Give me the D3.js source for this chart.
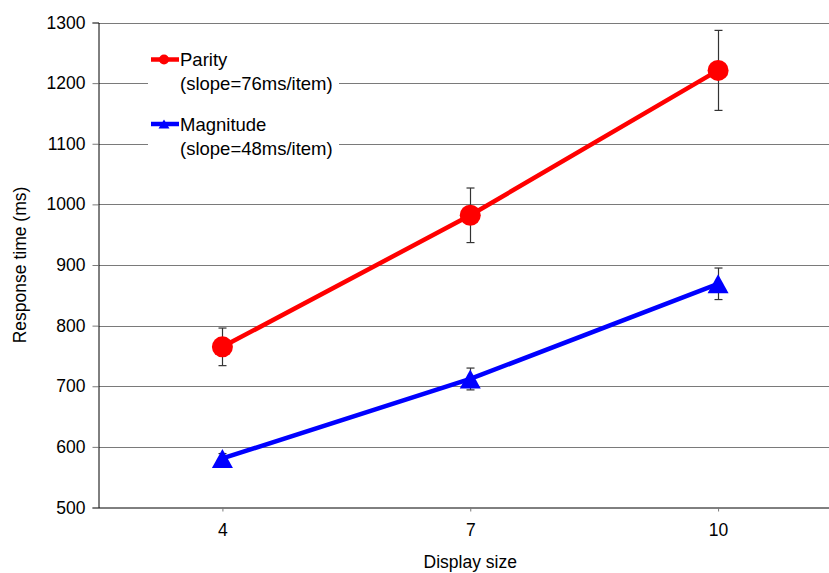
<!DOCTYPE html>
<html>
<head>
<meta charset="utf-8">
<script src="https://cdn.jsdelivr.net/npm/d3@7"></script>
<style>
  body { margin: 0; background: #fff; }
  svg { display: block; font-family: "Liberation Sans", Arial, sans-serif; }
</style>
</head>
<body>
<svg id="chart" width="829" height="573"></svg>
<script>
const categories = ["4", "7", "10"];
const parityValues = [765, 982, 1221];
const parityErrors = [31, 45, 66];
const magnitudeValues = [581, 712, 869];
const magnitudeErrors = [8, 18, 26];
const yTicks = [500, 600, 700, 800, 900, 1000, 1100, 1200, 1300];
const seriesNames = ["Parity", "Magnitude"];
const seriesNotes = ["(slope=76ms/item)", "(slope=48ms/item)"];

const svg = d3.select("#chart");
const plotLeft = 98.5, plotRight = 842, plotTop = 22.5, plotBottom = 507.5;

const x = d3.scalePoint().domain(categories).range([plotLeft, plotRight]).padding(0.5);
const y = d3.scaleLinear().domain([500, 1300]).range([plotBottom, plotTop]);

// gridlines
svg.append("g").selectAll("line").data(yTicks.slice(1)).join("line")
  .attr("x1", plotLeft).attr("x2", 829)
  .attr("y1", d => Math.round(y(d)) + 0.5).attr("y2", d => Math.round(y(d)) + 0.5)
  .attr("stroke", "#7a7a7a").attr("stroke-width", 1);

// y axis
const yAxis = svg.append("g").attr("transform", `translate(${plotLeft},0)`)
  .call(d3.axisLeft(y).tickValues(yTicks).tickSize(6).tickPadding(7).tickFormat(d3.format("d")));
yAxis.select(".domain").attr("stroke", "#000");
yAxis.selectAll(".tick line").attr("stroke", "#7a7a7a");
yAxis.selectAll(".tick text").attr("font-size", 17.5).attr("fill", "#000")
  .attr("font-family", "Liberation Sans, Arial, sans-serif");

// x axis
const xAxis = svg.append("g").attr("transform", `translate(0,${plotBottom})`)
  .call(d3.axisBottom(x).tickSize(4).tickPadding(12).tickSizeOuter(0));
xAxis.select(".domain").attr("stroke", "#000");
xAxis.selectAll(".tick line").attr("stroke", "#7a7a7a");
xAxis.selectAll(".tick text").attr("font-size", 17.5).attr("fill", "#000")
  .attr("font-family", "Liberation Sans, Arial, sans-serif");

// axis titles
svg.append("text").attr("x", (plotLeft + plotRight) / 2).attr("y", 568).attr("text-anchor", "middle")
  .attr("font-size", 17.5).text("Display size");
svg.append("text").attr("transform", "translate(26,265) rotate(-90)").attr("text-anchor", "middle")
  .attr("font-size", 17.5).text("Response time (ms)");

// legend background
svg.append("rect").attr("x", 148).attr("y", 40).attr("width", 191).attr("height", 122).attr("fill", "#fff");

const series = [
  { vals: parityValues, errs: parityErrors, color: "#ff0000", shape: "circle" },
  { vals: magnitudeValues, errs: magnitudeErrors, color: "#0000ff", shape: "triangle" }
];

const line = d3.line().x((d, i) => x(categories[i])).y(d => y(d));

series.forEach(s => {
  svg.append("path").datum(s.vals).attr("d", line)
    .attr("fill", "none").attr("stroke", s.color).attr("stroke-width", 4.5);
});

// error bars
series.forEach(s => {
  const g = svg.append("g").attr("stroke", "#333").attr("stroke-width", 1.2);
  s.vals.forEach((v, i) => {
    const cx = Math.round(x(categories[i])) + 0.5;
    g.append("line").attr("x1", cx).attr("x2", cx).attr("y1", y(v + s.errs[i])).attr("y2", y(v - s.errs[i]));
    g.append("line").attr("x1", cx - 4).attr("x2", cx + 4).attr("y1", y(v + s.errs[i])).attr("y2", y(v + s.errs[i]));
    g.append("line").attr("x1", cx - 4).attr("x2", cx + 4).attr("y1", y(v - s.errs[i])).attr("y2", y(v - s.errs[i]));
  });
});

// markers
const circleSym = d3.symbol().type(d3.symbolCircle).size(Math.PI * 10.5 * 10.5);
function tri(w, h) { return `M0,${-h / 2}L${w / 2},${h / 2}L${-w / 2},${h / 2}Z`; }
series.forEach(s => {
  s.vals.forEach((v, i) => {
    svg.append("path")
      .attr("transform", `translate(${x(categories[i])},${y(v)})`)
      .attr("d", s.shape === "circle" ? circleSym() : tri(21, 19))
      .attr("fill", s.color);
  });
});

// legend
const legendY = [59.5, 124];
series.forEach((s, k) => {
  const ly = legendY[k];
  svg.append("line").attr("x1", 151).attr("x2", 179).attr("y1", ly).attr("y2", ly)
    .attr("stroke", s.color).attr("stroke-width", 4.5);
  svg.append("path").attr("transform", `translate(164,${ly})`)
    .attr("d", s.shape === "circle" ? d3.symbol().type(d3.symbolCircle).size(Math.PI * 25)() : tri(11, 9))
    .attr("fill", s.color);
  svg.append("text").attr("x", 180).attr("y", ly + 6.5).attr("font-size", 18.5).text(seriesNames[k]);
  svg.append("text").attr("x", 180).attr("y", ly + 30.5).attr("font-size", 18.5).text(seriesNotes[k]);
});
</script>
</body>
</html>
